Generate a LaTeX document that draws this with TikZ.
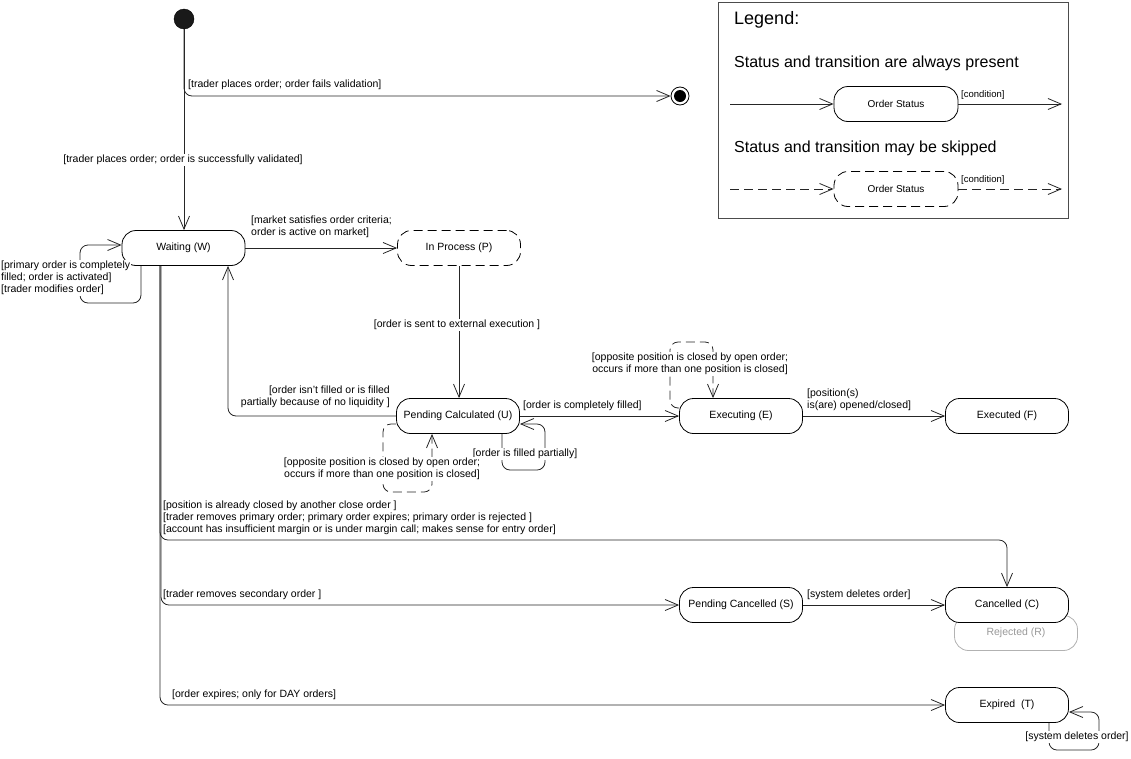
\documentclass[tikz,border=0pt]{standalone}
\usepackage{fontspec}
\setmainfont{Liberation Sans}
\usepackage{tikz}
\usetikzlibrary{shapes, arrows.meta, positioning}
\tikzstyle{state} = [rectangle, draw, line width=0.8pt, rounded corners=14pt, minimum width=123pt, minimum height=35pt, inner sep=2pt, fill=white, font=\fontsize{10.5}{12}\selectfont]
\tikzstyle{skipstate} = [state, dash pattern=on 9pt off 5pt]
\tikzstyle{legstate} = [minimum width=124pt, font=\fontsize{10}{12}\selectfont]
\tikzstyle{initial} = [circle, draw, fill=black!90, minimum size=20pt, inner sep=0pt]
\tikzstyle{final} = [circle, draw, line width=0.8pt, fill=white, minimum size=18pt, inner sep=0pt]
\tikzstyle{line} = [draw, line width=0.8pt, black!85]
\tikzstyle{trans} = [line, -{Straight Barb[length=13pt, width=11pt]}]
\tikzstyle{skiptrans} = [trans, dash pattern=on 9pt off 5pt]
\tikzstyle{guard} = [inner sep=1pt, align=left, font=\fontsize{10.5}{12}\selectfont]
\tikzstyle{wguard} = [guard, fill=white]
\tikzstyle{legtext} = [anchor=west, inner sep=1pt, font=\fontsize{16}{18}\selectfont]

\begin{document}
\begin{tikzpicture}[x=1pt, y=-1pt]
			\useasboundingbox (0,0) rectangle (1131,758);

			\node [initial] (init) at (184,19) {};
			\node [final] (fin) at (680,96) {};
			\fill (fin) circle (6pt);
			\node [state] (W) at (183.5,248) {Waiting (W)};
			\node [skipstate] (P) at (459,248) {In Process (P)};
			\node [state] (U) at (458,416) {Pending Calculated (U)};
			\node [state] (E) at (741,416) {Executing (E)};
			\node [state] (F) at (1007,416) {Executed (F)};
			\node [state] (S) at (741,605) {Pending Cancelled (S)};
			\node [state, draw=black!30, text=black!40] (R) at (1016,633) {Rejected (R)};
			\node [state] (C) at (1007,605) {Cancelled (C)};
			\node [state] (T) at (1007,705) {Expired~~(T)};

			\path [trans, rounded corners=8pt] (init) |- (fin);
			\path [trans] (init) -- (init |- W.north);
			\path [trans] (W) -- (P);
			\path [trans] (P) -- (P |- U.north);
			\path [trans, rounded corners=8pt] (U) -| (228,0 |- W.south);
			\path [trans] (U) -- (E);
			\path [trans] (E) -- (F);
			\path [trans] (S) -- (C);
			\path [trans, rounded corners=8pt] (160,0 |- W.south) -- (160,540) -| (C.north);
			\path [trans, rounded corners=8pt] (161,0 |- W.south) |- (S.west);
			\path [trans, rounded corners=8pt] (160,0 |- W.south) |- (T.west);

			\path [trans, rounded corners=8pt] (141,0 |- W.south) -- (141,303) -- (80,303) -- (80,245) -- (W.west |- 0,245);
			\path [trans, rounded corners=8pt] (502,0 |- U.south) -- (502,470) -- (545,470) -- (545,424) -- ([yshift=-8pt]U.east);
			\path [skiptrans, rounded corners=8pt] ([yshift=-8pt]U.west) -- (383,424) -- (383,492) -- (432,492) -- (432,0 |- U.south);
			\path [skiptrans, rounded corners=8pt] ([yshift=8pt]E.west) -- (670,408) -- (670,342) -- (713,342) -- (713,0 |- E.north);
			\path [trans, rounded corners=8pt] (1049,0 |- T.south) -- (1049,750) -- (1099,750) -- (1099,712) -- ([yshift=-7pt]T.east);

			\node [wguard] (gok) at (183,160) {[trader places order; order is successfully validated]};
			\node [guard, anchor=south west] (gfail) at (187,91) {[trader places order; order fails validation]};
			\node [wguard, anchor=west] (gact) at (0,278) {[primary order is completely\\filled; order is activated]\\{}[trader modifies order]};
			\node [guard, anchor=south west] (gmkt) at (250,239) {[market satisfies order criteria;\\order is active on market]};
			\node [wguard] (gext) at (457,325) {[order is sent to external execution ]};
			\node [guard, anchor=south east, align=right] (gliq) at (391,409) {[order isn’t filled or is filled\\partially because of no liquidity ]};
			\node [guard, anchor=south west] (gcomp) at (522,412) {[order is completely filled]};
			\node [wguard] (gpart) at (525,454) {[order is filled partially]};
			\node [wguard, align=center] (goppu) at (382,469) {[opposite position is closed by open order;\\occurs if more than one position is closed]};
			\node [wguard, align=center] (goppe) at (690,364) {[opposite position is closed by open order;\\occurs if more than one position is closed]};
			\node [guard, anchor=south west] (gpos) at (806,412) {[position(s)\\is(are) opened/closed]};
			\node [guard, anchor=south west] (gcan) at (162,536) {[position is already closed by another close order ]\\{}[trader removes primary order; primary order expires; primary order is rejected ]\\{}[account has insufficient margin or is under margin call; makes sense for entry order]};
			\node [guard, anchor=south west] (gsec) at (162,601) {[trader removes secondary order ]};
			\node [guard, anchor=south west] (gexp) at (171,701) {[order expires; only for DAY orders]};
			\node [guard, anchor=south west] (gdel) at (806,601) {[system deletes order]};
			\node [wguard] (gdelt) at (1077,737) {[system deletes order]};

			\node [draw=black!70, line width=0.8pt, minimum width=350pt, minimum height=216pt, anchor=north west] (leg) at (718,2) {};
			\node [legtext, font=\fontsize{18}{20}\selectfont] (legtitle) at (733,20) {Legend:};
			\node [legtext] (legsolid) at (733,63) {Status and transition are always present};
			\node [state, legstate] (lsolid) at (896,104) {Order Status};
			\coordinate (lsa) at (730,104);
			\coordinate (lsb) at (1062,104);
			\path [trans] (lsa) -- (lsolid);
			\path [trans] (lsolid) -- (lsb);
			\node [guard, anchor=south west, font=\fontsize{9.5}{11}\selectfont] (lcsolid) at (960,101) {[condition]};
			\node [legtext] (legskip) at (733,148) {Status and transition may be skipped};
			\node [skipstate, legstate] (lskip) at (896,189) {Order Status};
			\coordinate (lka) at (730,189);
			\coordinate (lkb) at (1062,189);
			\path [skiptrans] (lka) -- (lskip);
			\path [skiptrans] (lskip) -- (lkb);
			\node [guard, anchor=south west, font=\fontsize{9.5}{11}\selectfont] (lcskip) at (960,186) {[condition]};
		\end{tikzpicture}
\end{document}
